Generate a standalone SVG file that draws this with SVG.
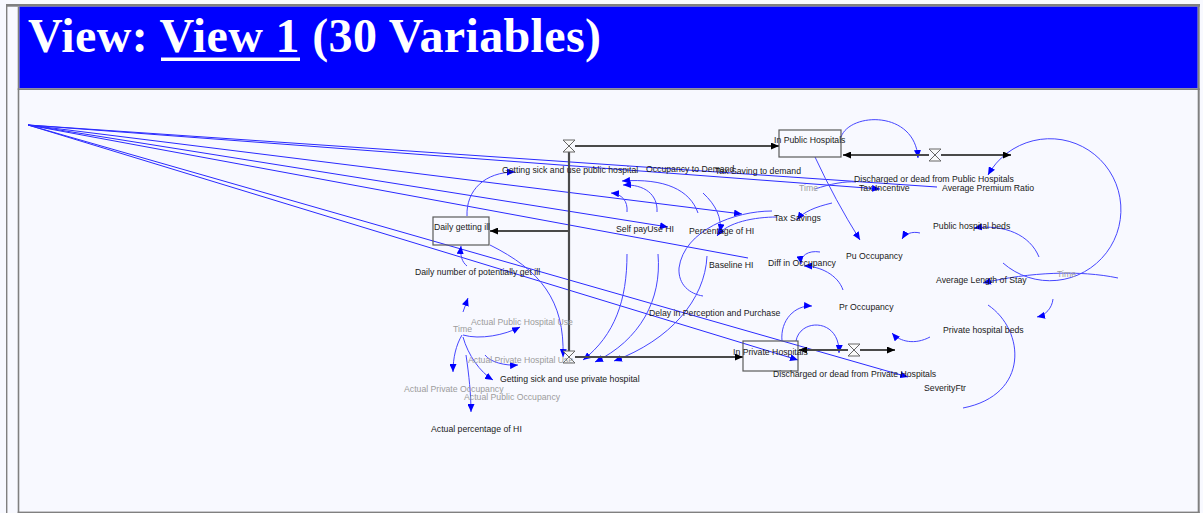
<svg xmlns="http://www.w3.org/2000/svg" width="1203" height="513" viewBox="0 0 1203 513">
<defs>
<marker id="ab" markerWidth="9" markerHeight="7" refX="8" refY="3.5" orient="auto" markerUnits="userSpaceOnUse"><path d="M0,0 L8,3.5 L0,7 z" fill="#0000ff"/></marker>
<marker id="ak" markerWidth="9" markerHeight="7" refX="8" refY="3.5" orient="auto" markerUnits="userSpaceOnUse"><path d="M0,0 L8,3.5 L0,7 z" fill="#000"/></marker>
<style>
.t{font-family:"Liberation Sans",Arial,sans-serif;font-size:8.7px;fill:#1a1a1a}
.g{font-family:"Liberation Sans",Arial,sans-serif;font-size:8.7px;fill:#9c9c9c}
.ln{fill:none;stroke:#2a2aff;stroke-width:1}
.cv{fill:none;stroke:#4646ff;stroke-width:1}
.ar{marker-end:url(#ab)}
.pipe{fill:none;stroke:#4a4a4a;stroke-width:2.2}
.pa{marker-end:url(#ak)}
.box{fill:none;stroke:#5a5a5a;stroke-width:1.2}
.valve{fill:#fafafa;stroke:#666;stroke-width:1}
</style>
</defs>
<rect width="1203" height="513" fill="#f8f9ff"/>
<g id="frame">
<rect x="6" y="4" width="1.4" height="509" fill="#808080"/>
<rect x="6" y="4" width="1194" height="2.7" fill="#808080"/>
<rect x="19.3" y="6.7" width="1178.4" height="81.6" fill="#0000ff"/>
<rect x="17.7" y="6.7" width="1.6" height="506.3" fill="#808080"/>
<rect x="17.7" y="88.3" width="1182" height="1.7" fill="#808080"/>
<rect x="1197.7" y="4" width="2" height="509" fill="#808080"/>
<rect x="17.7" y="511.6" width="1182" height="1.4" fill="#808080"/>
</g>
<g id="title">
<text x="28" y="52" font-family="'Liberation Serif','Times New Roman',serif" font-size="48" font-weight="bold" fill="#ffffff" textLength="573" lengthAdjust="spacing">View: View 1 (30 Variables)</text>
<rect x="161" y="57.5" width="139" height="3.5" fill="#ffffff"/>
</g>
<g id="connectors">
<path class="ln ar" d="M28,125 L880,189"/>
<path class="ln" d="M28,125 L937,187"/>
<path class="ln ar" d="M28,125 L742,214"/>
<path class="ln ar" d="M28,125 L668,227"/>
<path class="ln" d="M28,125 L748,258"/>
<path class="ln ar" d="M28,125 L908,377"/>
<path class="ln ar" d="M28,125 L798,360"/>
<path class="cv ar" d="M467,216 C466,190 485,172 515,172"/>
<path class="cv ar" d="M698,213 C690,190 665,178 622,181"/>
<path class="cv ar" d="M657,212 C658,195 645,184 623,185"/>
<path class="cv ar" d="M627,212 C628,201 622,194 611,193"/>
<path class="cv ar" d="M627,254 C627,300 615,335 583,360"/>
<path class="cv ar" d="M658,254 C662,300 640,340 595,362"/>
<path class="cv ar" d="M707,256 C705,300 670,340 614,361"/>
<path class="cv" d="M772,211 C735,211 684,230 679,268 C678,285 690,294 703,296"/>
<path class="cv ar" d="M777,217 C755,217 727,222 717,236"/>
<path class="cv ar" d="M703,193 C716,205 722,218 720,232"/>
<path class="cv ar" d="M815,157 Q835,200 860,240"/>
<path class="cv ar" d="M841,137 C850,112 915,110 918,158"/>
<path class="cv ar" d="M1003,263 A71,71 0 1 0 988,175"/>
<path class="cv ar" d="M1118,278 C1080,270 1030,272 983,283"/>
<path class="cv ar" d="M1039,257 C1030,235 1005,224 974,228"/>
<path class="cv ar" d="M1053,299 C1052,308 1046,315 1037,317"/>
<path class="cv" d="M988,305 C1025,330 1030,395 963,408"/>
<path class="cv ar" d="M930,337 C915,345 900,342 892,333"/>
<path class="cv ar" d="M782,341 C780,320 795,305 812,306"/>
<path class="cv ar" d="M796,341 C800,318 840,318 839,353"/>
<path class="cv ar" d="M820,252 C808,250 800,256 801,264"/>
<path class="cv ar" d="M843,290 C838,275 820,266 804,266"/>
<path class="cv ar" d="M920,233 C912,231 905,234 902,239"/>
<path class="cv ar" d="M832,203 C815,207 803,212 797,220"/>
<path class="cv" d="M815,189 C830,184 845,181 856,182"/>
<path class="cv ar" d="M490,245 C540,270 565,300 563,357"/>
<path class="cv ar" d="M467,266 C462,262 460,256 461,246"/>
<path class="cv ar" d="M463,312 L468,298"/>
<path class="cv ar" d="M463,335 C480,340 505,335 520,327"/>
<path class="cv ar" d="M462,335 C456,345 453,358 453,372"/>
<path class="cv ar" d="M463,337 C468,355 480,372 493,380"/>
<path class="cv ar" d="M466,355 C469,375 471,395 471,412"/>
<path class="cv ar" d="M485,355 C490,362 505,366 518,365"/>
</g>
<g id="pipes">
<path class="pipe pa" d="M575,146 L779,146"/>
<path class="pipe" d="M569,152 L569,351"/>
<path class="pipe pa" d="M569,231 L490,231"/>
<path class="pipe pa" d="M575,357 L743,357"/>
<path class="pipe pa" d="M929,155 L843,155"/>
<path class="pipe pa" d="M941,155 L1011,155"/>
<path class="pipe pa" d="M848,350 L799,350"/>
<path class="pipe pa" d="M860,350 L895,350"/>
</g>
<g id="n-daily-getting-ill"><rect class="box" x="433" y="217" width="56" height="28"/><text class="t" x="434" y="230">Daily getting ill</text></g>
<g id="n-in-public-hospitals"><rect class="box" x="779" y="130" width="62" height="27"/><text class="t" x="774" y="143">In Public Hospitals</text></g>
<g id="n-in-private-hospitals"><rect class="box" x="743" y="341" width="55" height="30"/><text class="t" x="733" y="355">In Private Hospitals</text></g>
<g id="f-getting-sick-public"><path class="valve" d="M563,140 L575,140 L563,152 L575,152 z"/><text class="t" x="502" y="173">Getting sick and use public hospital</text></g>
<g id="f-getting-sick-private"><path class="valve" d="M563,351 L575,351 L563,363 L575,363 z"/><text class="t" x="500" y="382">Getting sick and use private hospital</text></g>
<g id="f-discharged-public"><path class="valve" d="M929,149 L941,149 L929,161 L941,161 z"/><text class="t" x="854" y="182">Discharged or dead from Public Hospitals</text></g>
<g id="f-discharged-private"><path class="valve" d="M848,344 L860,344 L848,356 L860,356 z"/><text class="t" x="773" y="377">Discharged or dead from Private Hospitals</text></g>
<g id="v-occupancy-to-demand"><text class="t" x="646" y="172">Occupancy to Demand</text></g>
<g id="v-tax-saving-to-demand"><text class="t" x="715" y="174">Tax Saving to demand</text></g>
<g id="v-tax-incentive"><text class="t" x="859" y="191">Tax Incentive</text></g>
<g id="v-average-premium-ratio"><text class="t" x="942" y="191">Average Premium Ratio</text></g>
<g id="v-time-1"><text class="g" x="799" y="191">Time</text></g>
<g id="v-tax-savings"><text class="t" x="774" y="221">Tax Savings</text></g>
<g id="v-public-hospital-beds"><text class="t" x="933" y="229">Public hospital beds</text></g>
<g id="v-self-pay"><text class="t" x="616" y="232">Self pay</text></g>
<g id="v-use-hi"><text class="t" x="647.3" y="232">Use HI</text></g>
<g id="v-percentage-of-hi"><text class="t" x="689" y="234">Percentage of HI</text></g>
<g id="v-baseline-hi"><text class="t" x="709" y="268">Baseline HI</text></g>
<g id="v-diff-in-occupancy"><text class="t" x="768" y="266">Diff in Occupancy</text></g>
<g id="v-pu-occupancy"><text class="t" x="846" y="259">Pu Occupancy</text></g>
<g id="v-average-length-of-stay"><text class="t" x="936" y="283">Average Length of Stay</text></g>
<g id="v-time-2"><text class="g" x="1057" y="277">Time</text></g>
<g id="v-daily-number"><text class="t" x="415" y="275">Daily number of potentially get ill</text></g>
<g id="v-pr-occupancy"><text class="t" x="839" y="310">Pr Occupancy</text></g>
<g id="v-delay"><text class="t" x="649" y="316">Delay in Perception and Purchase</text></g>
<g id="v-private-hospital-beds"><text class="t" x="943" y="333">Private hospital beds</text></g>
<g id="v-actual-public-hospital-use"><text class="g" x="471" y="325">Actual Public Hospital Use</text></g>
<g id="v-time-3"><text class="g" x="453" y="332">Time</text></g>
<g id="v-actual-private-hospital-use"><text class="g" x="468" y="363">Actual Private Hospital Use</text></g>
<g id="v-severityftr"><text class="t" x="924" y="391">SeverityFtr</text></g>
<g id="v-actual-private-occupancy"><text class="g" x="404" y="392">Actual Private Occupancy</text></g>
<g id="v-actual-public-occupancy"><text class="g" x="464" y="400">Actual Public Occupancy</text></g>
<g id="v-actual-percentage-of-hi"><text class="t" x="431" y="432">Actual percentage of HI</text></g>
</svg>
